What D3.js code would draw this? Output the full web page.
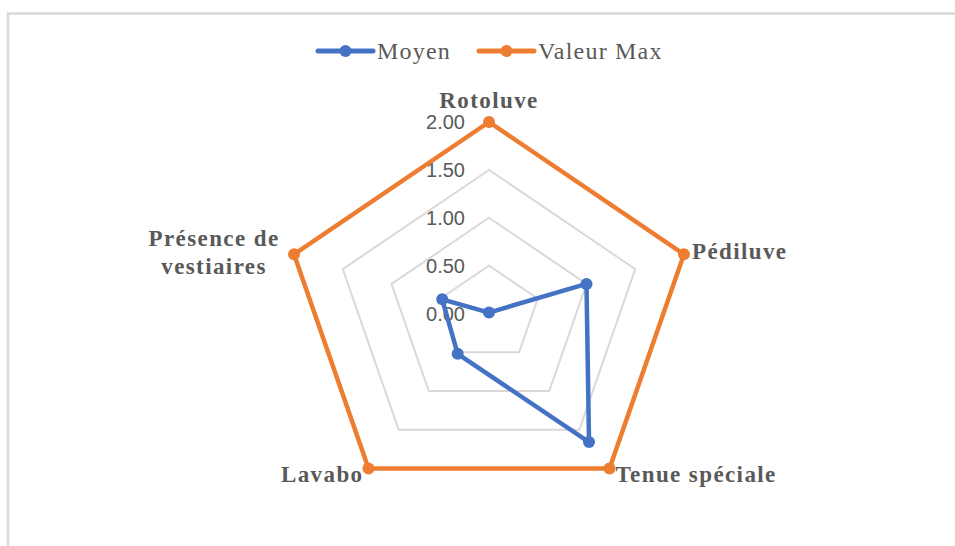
<!DOCTYPE html>
<html>
<head>
<meta charset="utf-8">
<script src="https://cdn.jsdelivr.net/npm/d3@7"></script>
<style>
  html, body { margin: 0; padding: 0; background: #fff; }
  svg { display: block; }
</style>
</head>
<body>
<svg id="radar" width="955" height="546"></svg>
<script>
const width = 955;
const height = 546;

// Données
const categories = ["Rotoluve", "Pédiluve", "Tenue spéciale", "Lavabo", "Présence de vestiaires"];
const moyen = [0.01, 1.00, 1.66, 0.52, 0.48];
const valeurMax = [2, 2, 2, 2, 2];
const ticks = [0, 0.5, 1, 1.5, 2];
const tickLabels = ["0.00", "0.50", "1.00", "1.50", "2.00"];
const seriesNames = ["Moyen", "Valeur Max"];
const seriesColors = ["#4472C4", "#ED7D31"];

const svg = d3.select("#radar");

// Cadre
svg.append("path")
  .attr("d", `M8,${height} L8,13.5 L${width},13.5`)
  .attr("fill", "none")
  .attr("stroke", "#d9d9d9")
  .attr("stroke-width", 2.5);

const cx = 489, cy = 313.5;

// échelles radiales (l'image est un peu étirée en largeur)
const rX = d3.scaleLinear().domain([0, 2]).range([0, 205]);
const rY = d3.scaleLinear().domain([0, 2]).range([0, 191.5]);
const angle = d3.scaleLinear().domain([0, categories.length]).range([0, 2 * Math.PI]);

const px = (i, v) => cx + rX(v) * Math.sin(angle(i));
const py = (i, v) => cy - rY(v) * Math.cos(angle(i));

const g = svg.append("g");

// Grille
g.selectAll("polygon.grid")
  .data(ticks.filter(t => t > 0))
  .join("polygon")
  .attr("class", "grid")
  .attr("points", t => categories.map((c, i) => `${px(i, t)},${py(i, t)}`).join(" "))
  .attr("fill", "none")
  .attr("stroke", "#d9d9d9")
  .attr("stroke-width", 2);

// Étiquettes des graduations
g.selectAll("text.tick")
  .data(ticks)
  .join("text")
  .attr("class", "tick")
  .attr("x", cx - 24)
  .attr("y", t => py(0, t))
  .attr("dy", "0.36em")
  .attr("text-anchor", "end")
  .attr("font-family", "Liberation Sans, Arial, sans-serif")
  .attr("font-size", 20)
  .attr("fill", "#595959")
  .text((t, i) => tickLabels[i]);

// Séries
const series = [moyen, valeurMax];
const lineGen = d3.line().curve(d3.curveLinearClosed);

series.forEach((vals, s) => {
  const pts = vals.map((v, i) => [px(i, v), py(i, v)]);
  g.append("path")
    .attr("d", lineGen(pts))
    .attr("fill", "none")
    .attr("stroke", seriesColors[s])
    .attr("stroke-width", 4.5)
    .attr("stroke-linejoin", "round");
  g.selectAll(null)
    .data(pts)
    .join("circle")
    .attr("cx", d => d[0])
    .attr("cy", d => d[1])
    .attr("r", 6)
    .attr("fill", seriesColors[s]);
});

// Étiquettes des catégories
const labelStyle = [
  { dx: 0, dy: -14, anchor: "middle" },
  { dx: 8, dy: 5, anchor: "start" },
  { dx: 6, dy: 14, anchor: "start" },
  { dx: -5, dy: 14, anchor: "end" },
  { dx: -80, dy: -8, anchor: "middle" }
];

categories.forEach((c, i) => {
  const st = labelStyle[i];
  const lines = c === "Présence de vestiaires" ? ["Présence de", "vestiaires"] : [c];
  const t = g.append("text")
    .attr("x", px(i, 2) + st.dx)
    .attr("y", py(i, 2) + st.dy)
    .attr("text-anchor", st.anchor)
    .attr("font-family", "Liberation Serif, Times New Roman, serif")
    .attr("font-weight", "bold")
    .attr("font-size", 23)
    .attr("letter-spacing", 1.4)
    .attr("fill", "#595959");
  lines.forEach((l, k) => {
    t.append("tspan")
      .attr("x", px(i, 2) + st.dx)
      .attr("dy", k === 0 ? 0 : 28)
      .text(l);
  });
});

// Légende
const legend = svg.append("g");
const legendX = [318, 479];
seriesNames.forEach((name, s) => {
  const lg = legend.append("g").attr("transform", `translate(${legendX[s]},51)`);
  lg.append("line")
    .attr("x1", 0).attr("x2", 55)
    .attr("stroke", seriesColors[s])
    .attr("stroke-width", 5)
    .attr("stroke-linecap", "round");
  lg.append("circle")
    .attr("cx", 27.5).attr("r", 6)
    .attr("fill", seriesColors[s]);
  lg.append("text")
    .attr("x", 59)
    .attr("y", 7.5)
    .attr("font-family", "Liberation Serif, Times New Roman, serif")
    .attr("font-size", 24)
    .attr("letter-spacing", 1.2)
    .attr("fill", "#595959")
    .text(name);
});
</script>
</body>
</html>
